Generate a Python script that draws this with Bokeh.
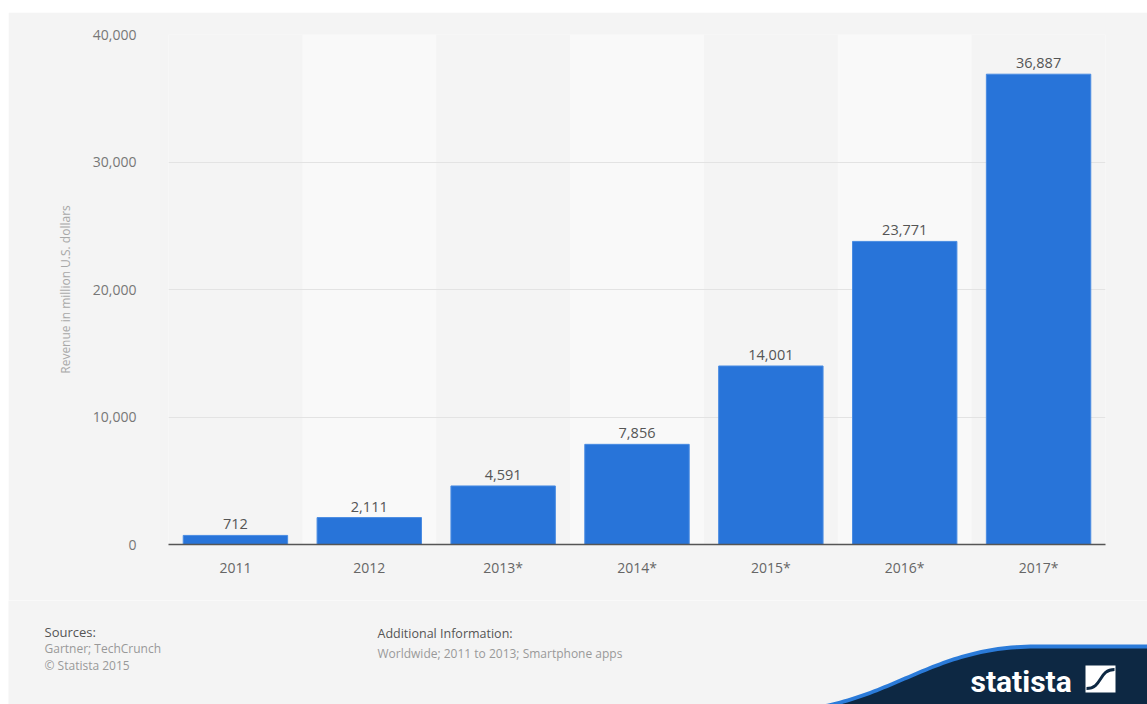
import numpy as np
from bokeh.plotting import figure
from bokeh.models import ColumnDataSource, FactorRange, Range1d, NumeralTickFormatter, FixedTicker
from bokeh.core.properties import value
from bokeh.embed import file_html
from bokeh.resources import INLINE

# ---- data ----
years = ["2011", "2012", "2013*", "2014*", "2015*", "2016*", "2017*"]
revenue = [712, 2111, 4591, 7856, 14001, 23771, 36887]
revenue_labels = ["712", "2,111", "4,591", "7,856", "14,001", "23,771", "36,887"]
band_years = ["2012", "2014*", "2016*"]
y_ticks = [0, 10000, 20000, 30000, 40000]
y_max = 40000
y_label = "Revenue in million U.S. dollars"
sources_title = "Sources:"
sources_lines = ["Gartner; TechCrunch", "© Statista 2015"]
info_title = "Additional Information:"
info_line = "Worldwide; 2011 to 2013; Smartphone apps"

BG = "#f4f4f4"
FONT = "Open Sans"

p = figure(x_range=FactorRange(*years), y_range=Range1d(0, y_max),
           width=1139, height=588, output_backend="svg", toolbar_location=None,
           min_border_left=160, min_border_right=42, min_border_top=22, min_border_bottom=56,
           margin=(12, 0, 0, 8))
p.background_fill_color = BG
p.border_fill_color = BG
p.outline_line_color = None

# alternating lighter bands
bsrc = ColumnDataSource(dict(x=band_years, top=[y_max] * len(band_years)))
bands = p.vbar(x="x", top="top", bottom=0, width=1.0, source=bsrc,
               fill_color="#f9f9f9", line_color=None)
bands.level = "image"

src = ColumnDataSource(dict(x=years, top=revenue, lab=revenue_labels))
p.vbar(x="x", top="top", width=0.78, source=src,
       fill_color="#2874d9", line_color="#4a8ce2", line_width=1)
p.text(x="x", y="top", text="lab", source=src, text_align="center",
       text_baseline="bottom", y_offset=-6, text_font=value(FONT),
       text_font_size="14.5px", text_color="#555555")

p.xgrid.grid_line_color = None
p.ygrid.grid_line_color = "#e3e3e3"
p.ygrid.grid_line_width = 1

p.yaxis.ticker = FixedTicker(ticks=y_ticks)
p.yaxis.formatter = NumeralTickFormatter(format="0,0")
p.yaxis.axis_line_color = None
p.yaxis.major_tick_line_color = None
p.yaxis.minor_tick_line_color = None
p.yaxis.major_label_standoff = 26
p.yaxis.major_label_text_font = FONT
p.yaxis.major_label_text_font_size = "14px"
p.yaxis.major_label_text_color = "#777777"
p.yaxis.axis_label = y_label
p.yaxis.axis_label_text_font = FONT
p.yaxis.axis_label_text_font_size = "12px"
p.yaxis.axis_label_text_font_style = "normal"
p.yaxis.axis_label_text_color = "#a8a8a8"
p.yaxis.axis_label_standoff = 16

p.xaxis.axis_line_color = "#555555"
p.xaxis.axis_line_width = 1.5
p.xaxis.major_tick_line_color = None
p.xaxis.minor_tick_line_color = None
p.xaxis.major_label_standoff = 7
p.xaxis.major_label_text_font = FONT
p.xaxis.major_label_text_font_size = "14px"
p.xaxis.major_label_text_color = "#666666"

# ---- footer (page pixel coordinates) ----
f = figure(x_range=Range1d(8, 1147), y_range=Range1d(704, 600),
           width=1139, height=104, output_backend="svg", toolbar_location=None,
           min_border=0, min_border_left=0, min_border_right=0,
           min_border_top=0, min_border_bottom=0, margin=(0, 0, 0, 8))
f.axis.visible = False
f.grid.visible = False
f.background_fill_color = BG
f.border_fill_color = BG
f.outline_line_color = None

f.text(x=[44], y=[631], text=[sources_title], text_font=value(FONT), text_font_size="13px",
       text_color="#555555", text_baseline="middle")
f.text(x=[44, 44], y=[648, 665], text=sources_lines, text_font=value(FONT), text_font_size="12px",
       text_color="#999999", text_baseline="middle")
f.text(x=[377], y=[633], text=[info_title], text_font=value(FONT), text_font_size="12.5px",
       text_color="#555555", text_baseline="middle")
f.text(x=[377], y=[653], text=[info_line], text_font=value(FONT), text_font_size="12px",
       text_color="#999999", text_baseline="middle")

# statista logo shape
t = np.linspace(0, 1, 60)
P0, P1, P2, P3 = (805, 707), (895, 695), (935, 644), (1035, 644)
cx = (1 - t) ** 3 * P0[0] + 3 * (1 - t) ** 2 * t * P1[0] + 3 * (1 - t) * t ** 2 * P2[0] + t ** 3 * P3[0]
cy = (1 - t) ** 3 * P0[1] + 3 * (1 - t) ** 2 * t * P1[1] + 3 * (1 - t) * t ** 2 * P2[1] + t ** 3 * P3[1]
xs = list(cx) + [1147, 1147, 805]
ys = list(cy) + [644, 704, 707]
f.patch(xs, ys, fill_color="#2b7bd9", line_color=None)
f.patch(xs, [y + 4 for y in ys[:-3]] + [648, 710, 710],
        fill_color="#0d2843", line_color=None)
f.text(x=[970], y=[681], text=["statista"], text_font=value("Roboto"), text_font_size="30px",
       text_font_style="bold", text_color="white", text_baseline="middle")
f.rect(x=[1100], y=[678.5], width=30, height=27, fill_color="white", line_color=None)
f.bezier(x0=[1086], y0=[688], x1=[1114], y1=[669], cx0=[1102], cy0=[688], cx1=[1098], cy1=[669],
         line_color="#0d2843", line_width=3)

open("out.html", "w").write(file_html([p, f], INLINE))
